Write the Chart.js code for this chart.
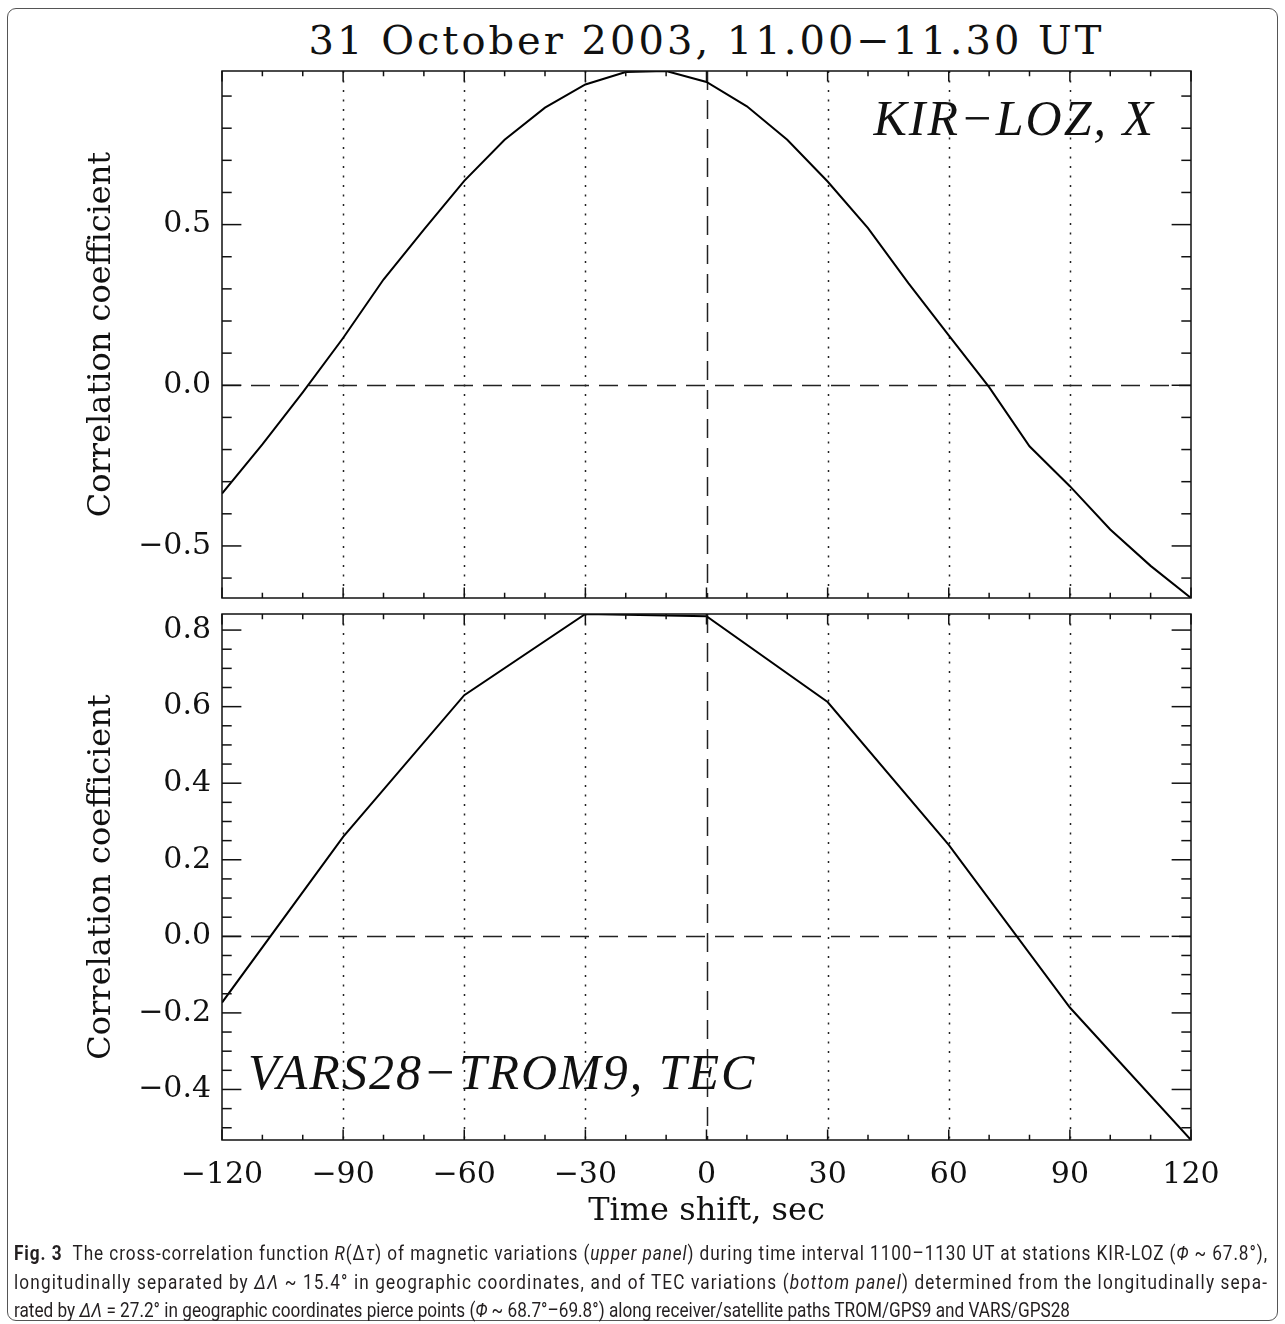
<!DOCTYPE html>
<html>
<head>
<meta charset="utf-8">
<title>Cross-correlation, 31 October 2003</title>
<script src="https://cdn.jsdelivr.net/npm/chart.js@4.4.0/dist/chart.umd.min.js"></script>
<style>
  html, body { margin: 0; padding: 0; background: #fff; }
  body { width: 1285px; height: 1324px; position: relative; overflow: hidden; }
  #frame { position: absolute; left: 7px; top: 8px; width: 1271px; height: 1313px;
           border: 1.3px solid #555; border-radius: 9px; box-sizing: border-box; }
  #plotTitle { position: absolute; left: 222px; width: 969px; top: 20px; height: 40px;
               line-height: 40px; text-align: center; font-family: "DejaVu Serif", serif;
               font-size: 40px; letter-spacing: 3px; color: #111; }
  #topWrap { position: absolute; left: 0; top: 0; }
  #botWrap { position: absolute; left: 0; top: 605px; }
  .cap { position: absolute; left: 14px; height: 28px; line-height: 28px;
         font-family: Roboto, "Noto Sans", sans-serif; font-size: 20px; color: #231f20;
         white-space: nowrap; transform-origin: 0 50%; }
  .cap b { font-weight: 700; }
</style>
</head>
<body>
<div id="frame"></div>
<div id="plotTitle">31 October 2003, 11.00−11.30 UT</div>
<div id="topWrap"><canvas id="topChart" width="1285" height="605"></canvas></div>
<div id="botWrap"><canvas id="botChart" width="1285" height="635"></canvas></div>

<div class="cap" id="cap1" style="top:1239px"><b>Fig. 3</b>&nbsp; The cross-correlation function <i>R</i>(Δ<i>τ</i>) of magnetic variations (<i>upper panel</i>) during time interval 1100–1130 UT at stations KIR-LOZ (<i>Φ</i> ~ 67.8°),</div>
<div class="cap" id="cap2" style="top:1268px">longitudinally separated by <i>ΔΛ</i> ~ 15.4° in geographic coordinates, and of TEC variations (<i>bottom panel</i>) determined from the longitudinally sepa-</div>
<div class="cap" id="cap3" style="top:1296px">rated by <i>ΔΛ</i> = 27.2° in geographic coordinates pierce points (<i>Φ</i> ~ 68.7°–69.8°) along receiver/satellite paths TROM/GPS9 and VARS/GPS28</div>

<script>
// upper panel: magnetic X component, KIR-LOZ, 10 s steps
const timeShift  = [-120, -110, -100, -90, -80, -70, -60, -50, -40, -30, -20, -10, 0,
                    10, 20, 30, 40, 50, 60, 70, 80, 90, 100, 110, 120];
const corrKirLoz = [-0.337, -0.184, -0.022, 0.147, 0.329, 0.484, 0.636, 0.764, 0.864, 0.936, 0.975, 0.978, 0.944,
                    0.868, 0.764, 0.634, 0.489, 0.318, 0.155, -0.006, -0.190, -0.314, -0.449, -0.562, -0.662];

// lower panel: TEC, VARS28-TROM9, 30 s steps
const timeShiftTec = [-120, -90, -60, -30, 0, 30, 60, 90, 120];
const corrTec      = [-0.173, 0.26, 0.63, 0.842, 0.836, 0.612, 0.239, -0.186, -0.532];

// axes
const xMajor    = [-120, -90, -60, -30, 0, 30, 60, 90, 120];
const xMinor    = [-110, -100, -80, -70, -50, -40, -20, -10, 10, 20, 40, 50, 70, 80, 100, 110];
const xDotted   = [-90, -60, -30, 30, 60, 90];
const yMajorTop = [-0.5, 0.0, 0.5];
const yMinorTop = [-0.6, -0.4, -0.3, -0.2, -0.1, 0.1, 0.2, 0.3, 0.4, 0.6, 0.7, 0.8, 0.9];
const yMajorBot = [-0.4, -0.2, 0.0, 0.2, 0.4, 0.6, 0.8];
const yMinorBot = [-0.5, -0.45, -0.35, -0.3, -0.25, -0.15, -0.1, -0.05, 0.05, 0.1, 0.15,
                   0.25, 0.3, 0.35, 0.45, 0.5, 0.55, 0.65, 0.7, 0.75];
const yRangeTop = [-0.662, 0.978];
const yRangeBot = [-0.532, 0.842];

const serif = '"DejaVu Serif", serif';
const minus = s => String(s).replace('-', '\u2212');

// IDL-like frame: box, inward ticks on all four sides, dotted/dashed reference lines, panel label
const idlFrame = {
  id: 'idlFrame',
  beforeDatasetsDraw(chart, args, o) {
    const {ctx, chartArea: a, scales: {x, y}} = chart;
    ctx.save();
    ctx.strokeStyle = '#222';
    ctx.lineWidth = 1.5;
    ctx.setLineDash([2, 7.5]);
    xDotted.forEach(v => {
      const px = Math.round(x.getPixelForValue(v)) + 0.5;
      ctx.beginPath(); ctx.moveTo(px, a.top); ctx.lineTo(px, a.bottom); ctx.stroke();
    });
    ctx.setLineDash([19, 10]);
    const x0 = Math.round(x.getPixelForValue(0)) + 0.5;
    ctx.beginPath(); ctx.moveTo(x0, a.top); ctx.lineTo(x0, a.bottom); ctx.stroke();
    const y0 = Math.round(y.getPixelForValue(0)) + 0.5;
    ctx.beginPath(); ctx.moveTo(a.left, y0); ctx.lineTo(a.right, y0); ctx.stroke();
    ctx.restore();
  },
  afterDraw(chart, args, o) {
    const {ctx, chartArea: a, scales: {x, y}} = chart;
    ctx.save();
    ctx.strokeStyle = '#111';
    ctx.lineWidth = 1.5;
    ctx.setLineDash([]);
    ctx.strokeRect(a.left, a.top, a.width, a.height);
    const xt = 0.02 * a.height, yt = 0.02 * a.width;
    const seg = (x1, y1, x2, y2) => { ctx.beginPath(); ctx.moveTo(x1, y1); ctx.lineTo(x2, y2); ctx.stroke(); };
    xMajor.concat(xMinor).forEach(v => {
      const len = xMajor.includes(v) ? xt : xt / 2;
      const px = x.getPixelForValue(v);
      seg(px, a.bottom, px, a.bottom - len);
      seg(px, a.top, px, a.top + len);
    });
    o.yMajor.concat(o.yMinor).forEach(v => {
      if (v < y.min || v > y.max) return;
      const len = o.yMajor.includes(v) ? yt : yt / 2;
      const py = y.getPixelForValue(v);
      seg(a.left, py, a.left + len, py);
      seg(a.right, py, a.right - len, py);
    });
    // panel label
    ctx.font = 'italic 50px "Liberation Serif", serif';
    ctx.letterSpacing = '2px';
    ctx.fillStyle = '#111';
    ctx.textBaseline = 'alphabetic';
    ctx.textAlign = o.label.align;
    const lx = o.label.align === 'right' ? a.right - o.label.dx : a.left + o.label.dx;
    ctx.fillText(o.label.text, lx, y.getPixelForValue(o.label.y));
    ctx.restore();
  }
};

function panel(canvasId, xs, ys, yRange, yMajor, yMinor, label, showX, padding) {
  return new Chart(document.getElementById(canvasId), {
    type: 'line',
    data: {
      datasets: [{
        data: xs.map((t, i) => ({x: t, y: ys[i]})),
        borderColor: '#000',
        borderWidth: 2,
        pointRadius: 0,
        tension: 0,
        fill: false
      }]
    },
    options: {
      responsive: false,
      animation: false,
      layout: {padding},
      plugins: {
        legend: {display: false},
        tooltip: {enabled: false},
        idlFrame: {yMajor, yMinor, label}
      },
      scales: {
        x: {
          type: 'linear',
          display: showX,
          min: -120, max: 120,
          afterBuildTicks: s => { s.ticks = xMajor.map(value => ({value})); },
          afterFit: s => {
            if (showX) s.height = 100;
            s.paddingLeft = 0; s.paddingRight = 0;
          },
          grid: {display: false, drawTicks: false},
          border: {display: false},
          ticks: {
            autoSkip: false, maxRotation: 0, padding: 17, color: '#111',
            font: {family: serif, size: 30},
            callback: v => minus(v)
          },
          title: {
            display: true, text: 'Time shift, sec', color: '#111',
            font: {family: serif, size: 32}, padding: {top: 0, bottom: 9}
          }
        },
        y: {
          min: yRange[0], max: yRange[1],
          afterBuildTicks: s => { s.ticks = yMajor.map(value => ({value})); },
          afterFit: s => {
            s.width = 222;
            s.paddingTop = 0; s.paddingBottom = 0;
          },
          grid: {display: false, drawTicks: false},
          border: {display: false},
          ticks: {
            padding: 11, color: '#111',
            font: {family: serif, size: 30},
            callback: v => minus(v.toFixed(1))
          },
          title: {
            display: true, text: 'Correlation coefficient', color: '#111',
            font: {family: serif, size: 32}, padding: {top: 82, bottom: 0}
          }
        }
      }
    },
    plugins: [idlFrame]
  });
}

panel('topChart', timeShift, corrKirLoz, yRangeTop, yMajorTop, yMinorTop,
      {text: 'KIR\u2212LOZ, X', align: 'right', dx: 36, y: 0.78},
      false, {left: 0, right: 94, top: 71, bottom: 7});

panel('botChart', timeShiftTec, corrTec, yRangeBot, yMajorBot, yMinorBot,
      {text: 'VARS28\u2212TROM9, TEC', align: 'left', dx: 26, y: -0.4},
      true, {left: 0, right: 94, top: 9, bottom: 0});

// caption: squeeze the sans font to the condensed look of the original,
// first two lines stretched to the full width by letter spacing
const cap3 = document.getElementById('cap3');
const sx = 1056 / cap3.getBoundingClientRect().width;
[['cap1', 1254], ['cap2', 1254], ['cap3', 0]].forEach(([id, target]) => {
  const el = document.getElementById(id);
  if (target) {
    const w = el.getBoundingClientRect().width;
    const n = el.textContent.length;
    el.style.letterSpacing = ((target / sx - w) / n) + 'px';
  }
  el.style.transform = `scaleX(${sx})`;
});
</script>
</body>
</html>
